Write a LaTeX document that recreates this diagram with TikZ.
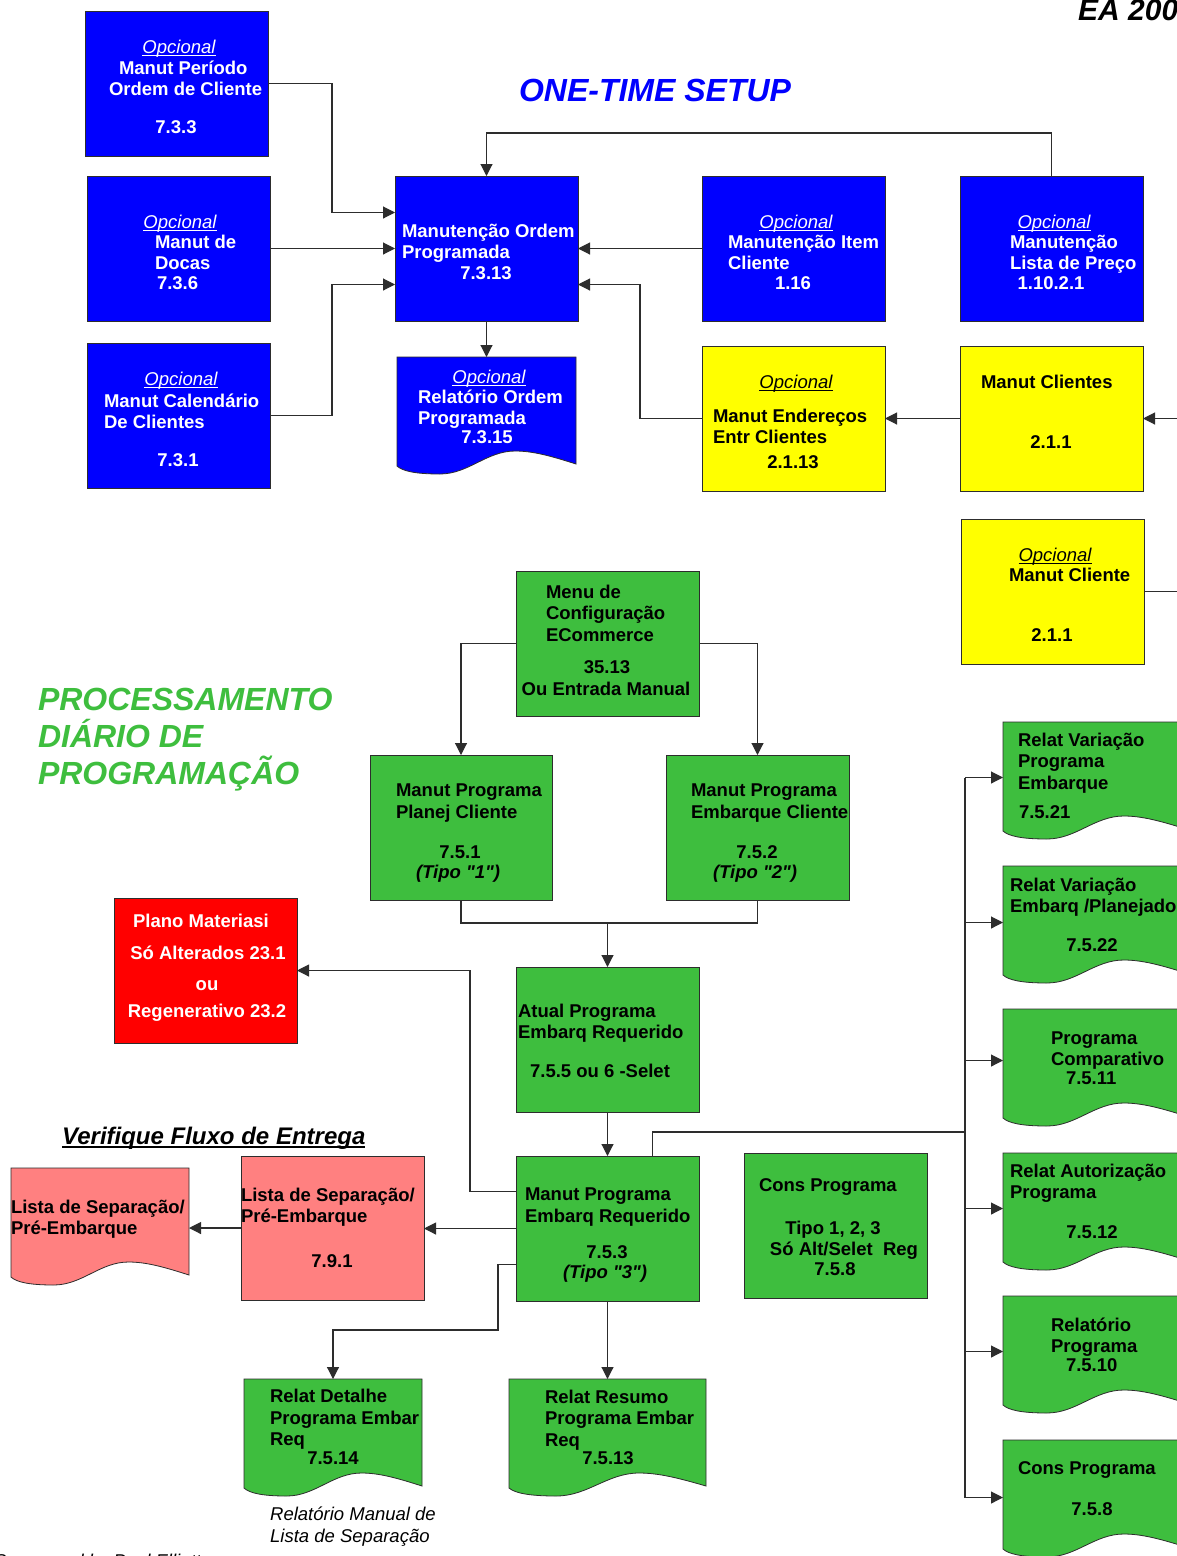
\documentclass[tikz,border=0pt]{standalone}
\usepackage{fontspec}
\setmainfont{Liberation Sans}[Ligatures=TeXOff]
\usetikzlibrary{arrows.meta,calc}

\definecolor{cBlue}{RGB}{0,0,255}
\definecolor{cYellow}{RGB}{255,255,0}
\definecolor{cGreen}{RGB}{62,190,62}
\definecolor{cRed}{RGB}{255,0,0}
\definecolor{cPink}{RGB}{255,128,128}
\definecolor{cLine}{RGB}{45,45,45}

\newsavebox\ulbox
% underlined text: depth of rule, rule thickness, text
\newcommand\undl[3]{\sbox\ulbox{#3}\rlap{\rule[-#1]{\wd\ulbox}{#2}}\usebox\ulbox}
\newcommand\opc{{\mdseries\itshape\undl{2.8pt}{1.2pt}{Opcional}}}
% one line inside a box: left-aligned at an offset, or centred on an offset
\newcommand\Lft[2]{\hspace*{#1pt}#2}
\newcommand\Ctr[2]{\hspace*{#1pt}\makebox[0pt]{#2}}
\newcommand\boxfont{\fontsize{18.5pt}{21pt}\selectfont\bfseries}
% text block of a box, first baseline #3 below the box top
\newcommand\boxtext[4][black]{\node[txt,text=#1] (#2-txt) at ($(#2.north west)+(0,#3)$) {\parbox[t]{320pt}{#4}};}
% document symbol: flat top, wavy lower edge (dip on the left, crest on the right)
\newcommand\docpath[2]{\filldraw[boxline,fill=#2]
  (#1.north west) -- (#1.north east) -- ($(#1.south east)+(0,-10)$)
  .. controls ($(#1.south west)!0.86!(#1.south east)+(0,-18)$) and ($(#1.south west)!0.76!(#1.south east)+(0,-23)$)
  .. ($(#1.south west)!0.66!(#1.south east)+(0,-23)$)
  .. controls ($(#1.south west)!0.50!(#1.south east)+(0,-23)$) and ($(#1.south west)!0.40!(#1.south east)$)
  .. ($(#1.south west)!0.24!(#1.south east)$)
  .. controls ($(#1.south west)!0.10!(#1.south east)$) and ($(#1.south west)!0.03!(#1.south east)+(0,-3)$)
  .. ($(#1.south west)+(0,-8)$) -- cycle;}

\tikzset{
  boxline/.style={draw=cLine,line width=0.8pt},
  box/.style={rectangle,boxline,minimum width=183pt,minimum height=145pt,anchor=north west,inner sep=0pt,outer sep=0pt},
  docnode/.style={rectangle,draw=none,minimum width=183pt,minimum height=117pt,anchor=north west,inner sep=0pt,outer sep=0pt},
  txt/.style={inner sep=0pt,outer sep=0pt,anchor=base west,font=\boxfont},
  conn/.style={draw=cLine,line width=1.1pt},
  arr/.style={conn,-{Triangle[length=12pt,width=12pt]}},
  heading/.style={inner sep=0pt,outer sep=0pt,anchor=base west,font=\fontsize{32pt}{37pt}\selectfont\bfseries\itshape},
}

\begin{document}
\begin{tikzpicture}[x=1pt,y=-1pt]
\useasboundingbox (0,0) rectangle (1177,1556);
\clip (0,0) rectangle (1177,1556);
\fill[white] (0,0) rectangle (1177,1556);

% ---------- one-time setup ----------
\node[heading,text=cBlue] (setup) at (519,101) {ONE-TIME SETUP};
\node[inner sep=0pt,anchor=base west,font=\fontsize{30pt}{34pt}\selectfont\bfseries\itshape] (edition) at (1078,20) {EA 200};

\node[box,fill=cBlue] (b1) at (85,11) {};
\boxtext[white]{b1}{42}{\Ctr{94}{\opc}\\\Lft{34}{Manut Período}\\\Lft{24}{Ordem de Cliente}\\[17pt]\Ctr{91}{7.3.3}}

\node[box,fill=cBlue] (b2) at (87,176) {};
\boxtext[white]{b2}{52}{\Ctr{93}{\opc}\\[-1pt]\Lft{68}{Manut de}\\\Lft{68}{Docas}\\[-1pt]\Lft{70}{7.3.6}}

\node[box,fill=cBlue] (b3) at (87,343) {};
\boxtext[white]{b3}{42}{\Ctr{94}{\opc}\\[1pt]\Lft{17}{Manut Calendário}\\\Lft{17}{De Clientes}\\[17pt]\Ctr{91}{7.3.1}}

\node[box,fill=cBlue] (b4) at (395,176) {};
\boxtext[white]{b4}{61}{\Lft{7}{Manutenção Ordem}\\\Lft{7}{Programada}\\\Ctr{91}{7.3.13}}

\node[docnode,minimum width=179pt] (b5) at (397,357) {};
\docpath{b5}{cBlue}
\boxtext[white]{b5}{26}{\Ctr{92}{\opc}\\[-1pt]\Lft{21}{Relatório Ordem}\\\Lft{21}{Programada}\\[-2pt]\Ctr{90}{7.3.15}}

\node[box,fill=cBlue] (b6) at (702,176) {};
\boxtext[white]{b6}{52}{\Ctr{94}{\opc}\\[-1pt]\Lft{26}{Manutenção Item}\\\Lft{26}{Cliente}\\[-1pt]\Ctr{91}{1.16}}

\node[box,fill=cBlue] (b7) at (960,176) {};
\boxtext[white]{b7}{52}{\Ctr{94}{\opc}\\[-1pt]\Lft{50}{Manutenção}\\\Lft{50}{Lista de Preço}\\[-1pt]\Ctr{91}{1.10.2.1}}

\node[box,fill=cYellow] (y1) at (702,346) {};
\boxtext{y1}{42}{\Ctr{94}{\opc}\\[13pt]\Lft{11}{Manut Endereços}\\\Lft{11}{Entr Clientes}\\[4pt]\Ctr{91}{2.1.13}}

\node[box,fill=cYellow] (y2) at (960,346) {};
\boxtext{y2}{42}{\Lft{21}{Manut Clientes}\\[39pt]\Ctr{91}{2.1.1}}

\node[box,fill=cYellow] (y3) at (961,519) {};
\boxtext{y3}{42}{\Ctr{94}{\opc}\\[-1pt]\Lft{48}{Manut Cliente}\\[39pt]\Ctr{91}{2.1.1}}

% ---------- daily processing ----------
\node[heading,text=cGreen] (daily) at (38,710) {\parbox[t]{400pt}{PROCESSAMENTO\\DIÁRIO DE\\PROGRAMAÇÃO}};

\node[box,fill=cGreen] (g1) at (516,571) {};
\boxtext{g1}{27}{\Lft{30}{Menu de}\\\Lft{30}{Configuração}\\[1pt]\Lft{30}{ECommerce}\\[11pt]\Ctr{91}{35.13}\\[1pt]\Ctr{90}{Ou Entrada Manual}}

\node[box,fill=cGreen,minimum width=182pt] (g2) at (370,755) {};
\boxtext{g2}{41}{\Lft{26}{Manut Programa}\\[1pt]\Lft{26}{Planej Cliente}\\[19pt]\Ctr{90}{7.5.1}\\[-1pt]\Ctr{88}{\textit{(Tipo "1")}}}

\node[box,fill=cGreen] (g3) at (666,755) {};
\boxtext{g3}{41}{\Lft{25}{Manut Programa}\\[1pt]\Lft{25}{Embarque Cliente}\\[19pt]\Ctr{91}{7.5.2}\\[-1pt]\Ctr{89}{\textit{(Tipo "2")}}}

\node[box,fill=cGreen] (g4) at (516,967) {};
\boxtext{g4}{50}{\Lft{2}{Atual Programa}\\\Lft{2}{Embarq Requerido}\\[18pt]\Ctr{84}{7.5.5 ou 6 -Selet}}

\node[box,fill=cGreen] (g5) at (516,1156) {};
\boxtext{g5}{44}{\Lft{9}{Manut Programa}\\[1pt]\Lft{9}{Embarq Requerido}\\[15pt]\Ctr{91}{7.5.3}\\[-1pt]\Ctr{89}{\textit{(Tipo "3")}}}

\node[box,fill=cGreen] (g6) at (744,1153) {};
\boxtext{g6}{38}{\Lft{15}{Cons Programa}\\[22pt]\Ctr{89}{Tipo 1, 2, 3}\\\Ctr{100}{Só Alt/Selet\ \ Reg}\\[-1pt]\Ctr{91}{7.5.8}}

\node[docnode,minimum width=178pt] (g7) at (244,1379) {};
\docpath{g7}{cGreen}
\boxtext{g7}{23}{\Lft{26}{Relat Detalhe}\\[1pt]\Lft{26}{Programa Embar}\\\Lft{26}{Req}\\[-2pt]\Ctr{89}{7.5.14}}

\node[docnode,minimum width=197pt] (g8) at (509,1379) {};
\docpath{g8}{cGreen}
\boxtext{g8}{24}{\Lft{36}{Relat Resumo}\\\Lft{36}{Programa Embar}\\[1pt]\Lft{36}{Req}\\[-3pt]\Ctr{99}{7.5.13}}

% reports fed from the schedule bus
\node[docnode] (r1) at (1003,722) {};
\docpath{r1}{cGreen}
\boxtext{r1}{24}{\Lft{15}{Relat Variação}\\\Lft{15}{Programa}\\[1pt]\Lft{15}{Embarque}\\[8pt]\Lft{16}{7.5.21}}

\node[docnode] (r2) at (1003,866) {};
\docpath{r2}{cGreen}
\boxtext{r2}{25}{\Lft{7}{Relat Variação}\\\Lft{7}{Embarq /Planejado}\\[18pt]\Ctr{89}{7.5.22}}

\node[docnode] (r3) at (1003,1009) {};
\docpath{r3}{cGreen}
\boxtext{r3}{35}{\Lft{48}{Programa}\\\Lft{48}{Comparativo}\\[-2pt]\Lft{63}{7.5.11}}

\node[docnode] (r4) at (1003,1153) {};
\docpath{r4}{cGreen}
\boxtext{r4}{24}{\Lft{7}{Relat Autorização}\\\Lft{7}{Programa}\\[19pt]\Ctr{89}{7.5.12}}

\node[docnode] (r5) at (1003,1296) {};
\docpath{r5}{cGreen}
\boxtext{r5}{35}{\Lft{48}{Relatório}\\\Lft{48}{Programa}\\[-2pt]\Lft{63}{7.5.10}}

\node[docnode] (r6) at (1003,1440) {};
\docpath{r6}{cGreen}
\boxtext{r6}{34}{\Lft{15}{Cons Programa}\\[20pt]\Ctr{89}{7.5.8}}

% material planning and picking lists
\node[box,fill=cRed] (red) at (114,898) {};
\boxtext[white]{red}{29}{\Ctr{87}{Plano Materiasi}\\[11pt]\Ctr{94}{Só Alterados 23.1}\\[10pt]\Ctr{93}{ou}\\[6pt]\Ctr{93}{Regenerativo 23.2}}

\node[inner sep=0pt,anchor=base west,font=\fontsize{24pt}{28pt}\selectfont\bfseries\itshape] (verif) at (62,1144) {\undl{4pt}{2pt}{Verifique Fluxo de Entrega}};

\node[box,fill=cPink,minimum height=144pt] (p1) at (241,1156) {};
\boxtext{p1}{45}{\Lft{0}{Lista de Separação/}\\\Lft{0}{Pré-Embarque}\\[24pt]\Ctr{91}{7.9.1}}

\node[docnode,minimum width=178pt] (p2) at (11,1168) {};
\docpath{p2}{cPink}
\boxtext{p2}{45}{\Lft{0}{Lista de Separação/}\\\Lft{0}{Pré-Embarque}}

\node[inner sep=0pt,anchor=base west,font=\fontsize{18.5pt}{22pt}\selectfont\itshape] (manual) at (270,1520) {\parbox[t]{300pt}{Relatório Manual de\\Lista de Separação}};
\node[inner sep=0pt,anchor=base west,font=\fontsize{18.5pt}{22pt}\selectfont\itshape] (credit) at (-6,1567) {Sponsored by Paul Elliott};

% ---------- connectors: one-time setup ----------
\coordinate (j1) at (332,0);
\coordinate (b4a) at ([yshift=36pt]b4.west);
\coordinate (b4c) at ([yshift=-36pt]b4.west);
\coordinate (b4d) at ([yshift=-36pt]b4.east);
\draw[arr] (b1.east) -- (b1.east -| j1) -- (j1 |- b4a) -- (b4a);
\draw[arr] (b2.east) -- (b4.west);
\draw[arr] (b3.east) -- (b3.east -| j1) -- (j1 |- b4c) -- (b4c);
\draw[arr] (b4.south) -- (b5.north);
\draw[arr] (b6.west) -- (b4.east);
\coordinate (j2) at (640,0);
\draw[arr] (y1.west) -- (y1.west -| j2) -- (j2 |- b4d) -- (b4d);
\coordinate (j3) at (0,133);
\draw[arr] (b7.north) -- (b7.north |- j3) -- (b4.north |- j3) -- (b4.north);
\draw[arr] (y2.west) -- (y1.east);
\coordinate (e1) at (1182,418.5);
\draw[arr] (e1) -- (y2.east);
\coordinate (e2) at (1182,591.5);
\draw[conn] (y3.east) -- (e2);

% ---------- connectors: daily processing ----------
\draw[arr] (g1.west) -| (g2.north);
\draw[arr] (g1.east) -| (g3.north);
\coordinate (m) at (607.5,923);
\draw[conn] (g2.south) |- (m) -| (g3.south);
\draw[arr] (m) -- (g4.north);
\draw[arr] (g4.south) -- (g5.north);
\coordinate (j4) at (470,0);
\coordinate (g5a) at ([yshift=37pt]g5.west);
\draw[arr] (g5a) -- (g5a -| j4) -- (j4 |- red.east) -- (red.east);
\draw[arr] (g5.west) -- (g5.west -| p1.east);
\draw[arr] (p1.west) -- (p1.west -| p2.east);
\coordinate (j5) at (498,1330);
\coordinate (g5c) at ([yshift=-36pt]g5.west);
\draw[arr] (g5c) -- (g5c -| j5) -- (j5) -- (j5 -| g7.north) -- (g7.north);
\draw[arr] (g5.south) -- (g8.north);

\coordinate (bus) at (965,1132);
\coordinate (g5t) at ([xshift=45pt]g5.north);
\draw[conn] (g5t) |- (bus);
\coordinate (r1in) at ([yshift=3pt]r1.west);
\coordinate (r2in) at ([yshift=2pt]r2.west);
\coordinate (r3in) at ([yshift=7pt]r3.west);
\coordinate (r4in) at ([yshift=3pt]r4.west);
\coordinate (r5in) at ([yshift=3pt]r5.west);
\coordinate (r6in) at ([yshift=1pt]r6.west);
\draw[conn] (bus |- r1in) -- (bus |- r6in);
\foreach \r in {r1in,r2in,r3in,r4in,r5in,r6in}
  \draw[arr] (bus |- \r) -- (\r);
\end{tikzpicture}
\end{document}
